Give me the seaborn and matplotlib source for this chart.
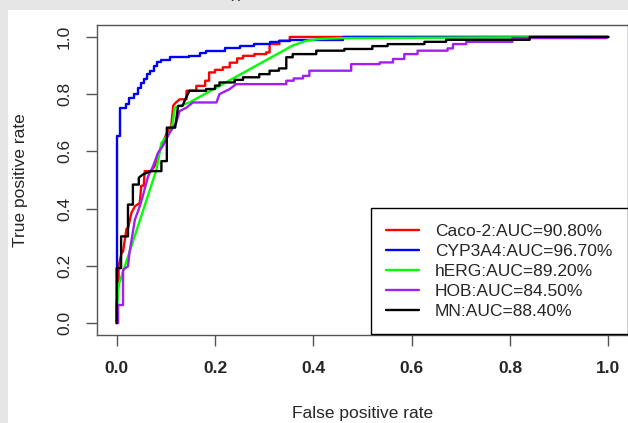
import pandas as pd
import matplotlib
matplotlib.use("Agg")
import matplotlib.pyplot as plt
import seaborn as sns

# ROC curve points (fpr, tpr)
caco_pts = [(0, 0), (0, 0.07), (0.004, 0.14), (0.004, 0.20), (0.010, 0.245),
            (0.013, 0.25), (0.020, 0.33), (0.023, 0.33), (0.030, 0.385),
            (0.037, 0.408), (0.047, 0.42), (0.050, 0.48), (0.055, 0.48),
            (0.057, 0.531), (0.070, 0.531), (0.077, 0.548), (0.084, 0.584),
            (0.091, 0.619), (0.101, 0.66), (0.111, 0.689), (0.115, 0.76),
            (0.120, 0.77), (0.128, 0.782), (0.142, 0.782), (0.142, 0.812),
            (0.162, 0.812), (0.162, 0.829), (0.180, 0.829), (0.180, 0.847),
            (0.188, 0.847), (0.188, 0.876), (0.200, 0.876), (0.200, 0.885),
            (0.216, 0.885), (0.216, 0.894), (0.230, 0.894), (0.230, 0.910),
            (0.245, 0.910), (0.245, 0.925), (0.257, 0.925), (0.257, 0.934),
            (0.280, 0.934), (0.280, 0.940), (0.304, 0.940), (0.304, 0.946),
            (0.311, 0.946), (0.311, 0.975), (0.331, 0.975), (0.331, 0.987),
            (0.352, 0.987), (0.352, 1.0), (1.0, 1.0)]

cyp_pts = [(0, 0), (0, 0.654), (0.0075, 0.654), (0.0075, 0.753), (0.020, 0.753),
           (0.020, 0.765), (0.025, 0.765), (0.025, 0.788), (0.035, 0.788),
           (0.035, 0.800), (0.043, 0.800), (0.043, 0.823), (0.050, 0.823),
           (0.050, 0.840), (0.055, 0.840), (0.055, 0.853), (0.062, 0.853),
           (0.062, 0.870), (0.067, 0.870), (0.067, 0.882), (0.075, 0.882),
           (0.075, 0.900), (0.082, 0.900), (0.082, 0.912), (0.090, 0.912),
           (0.090, 0.920), (0.108, 0.920), (0.108, 0.929), (0.148, 0.929),
           (0.148, 0.935), (0.170, 0.935), (0.170, 0.945), (0.182, 0.945),
           (0.182, 0.952), (0.220, 0.952), (0.220, 0.962), (0.250, 0.962),
           (0.250, 0.970), (0.280, 0.970), (0.280, 0.976), (0.311, 0.976),
           (0.311, 0.981), (0.330, 0.981), (0.330, 0.987), (0.352, 0.987),
           (0.352, 0.990), (0.460, 0.990), (0.460, 1.0), (1.0, 1.0)]

herg_pts = [(0, 0), (0.003, 0.127), (0.081, 0.537), (0.091, 0.63),
            (0.108, 0.666), (0.114, 0.70), (0.118, 0.753), (0.148, 0.771),
            (0.358, 0.97), (0.386, 0.987), (0.413, 0.993), (0.46, 0.996),
            (1.0, 1.0)]

hob_pts = [(0, 0), (0.003, 0), (0.003, 0.063), (0.013, 0.063), (0.013, 0.186),
           (0.023, 0.198), (0.026, 0.245), (0.037, 0.361), (0.047, 0.408),
           (0.053, 0.443), (0.064, 0.513), (0.074, 0.548), (0.084, 0.595),
           (0.094, 0.619), (0.108, 0.666), (0.121, 0.70), (0.128, 0.741),
           (0.142, 0.753), (0.155, 0.771), (0.203, 0.771), (0.209, 0.80),
           (0.230, 0.818), (0.243, 0.835), (0.345, 0.835), (0.345, 0.847),
           (0.360, 0.847), (0.360, 0.855), (0.379, 0.855), (0.379, 0.864),
           (0.392, 0.864), (0.392, 0.882), (0.477, 0.882), (0.477, 0.905),
           (0.535, 0.905), (0.535, 0.911), (0.562, 0.911), (0.562, 0.923),
           (0.585, 0.923), (0.585, 0.940), (0.612, 0.940), (0.612, 0.952),
           (0.673, 0.952), (0.673, 0.960), (0.684, 0.960), (0.684, 0.975),
           (0.711, 0.975), (0.711, 0.983), (0.805, 0.983), (0.805, 0.996),
           (0.995, 0.996), (1.0, 1.0)]

mn_pts = [(0, 0), (0, 0.192), (0.009, 0.192), (0.009, 0.303), (0.023, 0.303),
          (0.023, 0.414), (0.033, 0.414), (0.033, 0.484), (0.045, 0.484),
          (0.045, 0.508), (0.053, 0.519), (0.070, 0.531), (0.091, 0.531),
          (0.091, 0.566), (0.102, 0.566), (0.102, 0.683), (0.119, 0.683),
          (0.125, 0.759), (0.134, 0.759), (0.139, 0.78), (0.148, 0.812),
          (0.182, 0.812), (0.182, 0.818), (0.200, 0.818), (0.200, 0.830),
          (0.209, 0.830), (0.209, 0.841), (0.240, 0.841), (0.240, 0.850),
          (0.257, 0.850), (0.257, 0.859), (0.290, 0.859), (0.290, 0.870),
          (0.311, 0.870), (0.311, 0.882), (0.330, 0.882), (0.330, 0.890),
          (0.345, 0.890), (0.345, 0.929), (0.358, 0.929), (0.358, 0.940),
          (0.406, 0.940), (0.406, 0.952), (0.463, 0.952), (0.463, 0.958),
          (0.520, 0.958), (0.520, 0.968), (0.551, 0.968), (0.551, 0.975),
          (0.626, 0.975), (0.626, 0.983), (0.670, 0.983), (0.670, 0.990),
          (0.840, 0.990), (0.840, 1.0), (1.0, 1.0)]

labels = ["Caco-2:AUC=90.80%", "CYP3A4:AUC=96.70%", "hERG:AUC=89.20%",
          "HOB:AUC=84.50%", "MN:AUC=88.40%"]
colors = ["#FF0000", "#0000FF", "#00FF00", "#A020F0", "#000000"]
ticks = [0.0, 0.2, 0.4, 0.6, 0.8, 1.0]

curves = [caco_pts, cyp_pts, herg_pts, hob_pts, mn_pts]
df = pd.concat([pd.DataFrame(pts, columns=["fpr", "tpr"]).assign(model=lab)
                for pts, lab in zip(curves, labels)], ignore_index=True)

sns.set_style("white")
plt.rcParams["font.family"] = ["Liberation Sans", "DejaVu Sans"]

fig = plt.figure(figsize=(6.28, 4.23), dpi=100, facecolor="#e6e6e6")
# white panel (the reference is a crop with a grey margin top/left)
fig.patches.append(plt.Rectangle((8 / 628, 0), 1, 1 - 10 / 423,
                                 transform=fig.transFigure, facecolor="white",
                                 edgecolor="none", zorder=-10))
fig.text(236 / 628, 1.0 + 2 / 423, "(f)", ha="center", va="baseline",
         fontsize=12.5)

ax = fig.add_axes([97 / 628, 1 - 334.5 / 423, 531 / 628, 309 / 423])
sns.lineplot(data=df, x="fpr", y="tpr", hue="model", hue_order=labels,
             palette=colors, sort=False, estimator=None, linewidth=1.7,
             legend=False, ax=ax)

ax.set_xlim(-0.04, 1.04)
ax.set_ylim(-0.04, 1.04)
ax.set_xticks(ticks)
ax.set_yticks(ticks)
ax.set_xticklabels([f"{v:.1f}" for v in ticks], fontweight="bold")
ax.set_yticklabels([f"{v:.1f}" for v in ticks], rotation=90, va="center")
ax.tick_params(axis="both", direction="out", length=8, width=1,
               color="#555555", labelsize=12.5, bottom=True, left=True)
ax.tick_params(axis="x", pad=11)
ax.tick_params(axis="y", pad=10)
for s in ax.spines.values():
    s.set_color("#555555")
    s.set_linewidth(1)
ax.set_xlabel("False positive rate", fontsize=12.5, labelpad=22)
ax.set_ylabel("True positive rate", fontsize=12.5, labelpad=21)

leg = ax.legend(ax.lines[:5], labels, loc="lower right", bbox_to_anchor=(1, 0),
                borderaxespad=0, fontsize=12.5, handlelength=1.9,
                handletextpad=0.9, labelspacing=0.28, borderpad=0.9,
                fancybox=False, framealpha=1, edgecolor="black")
leg.get_frame().set_linewidth(1)

fig.savefig("out.png", dpi=100, facecolor=fig.get_facecolor())
